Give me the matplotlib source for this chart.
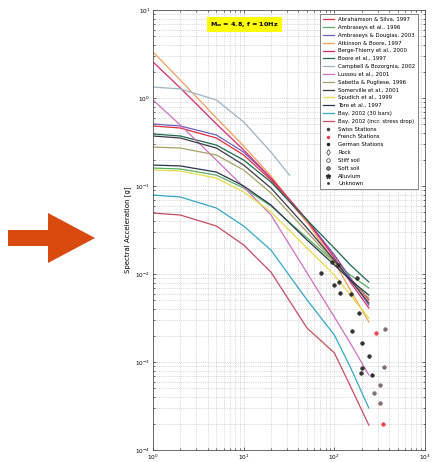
import numpy as np
import matplotlib
matplotlib.use("Agg")
import matplotlib.pyplot as plt
from matplotlib.patches import Polygon
from matplotlib.lines import Line2D

# distanze [km] comuni a quasi tutte le curve
dist = [1, 2, 5, 10, 20, 50, 100, 150, 240]
dist_campbell = [1, 2, 5, 10, 20, 32]

# accelerazione spettrale [g]
sa_abrahamson = [0.481, 0.456, 0.351, 0.225, 0.117, 0.0390, 0.0164, 0.00901, 0.00507]
sa_ambraseys96 = [0.160, 0.156, 0.133, 0.0949, 0.0593, 0.0257, 0.0137, 0.00974, 0.00693]
sa_ambr_douglas = [0.507, 0.481, 0.380, 0.243, 0.123, 0.0411, 0.0164, 0.00901, 0.00444]
sa_atkinson = [3.33, 1.60, 0.593, 0.285, 0.130, 0.0390, 0.0137, 0.00658, 0.00285]
sa_berge = [2.57, 1.30, 0.507, 0.257, 0.123, 0.0411, 0.0152, 0.00811, 0.00411]
sa_boore = [0.390, 0.370, 0.292, 0.197, 0.111, 0.0411, 0.0197, 0.0127, 0.00811]
sa_campbell = [1.33, 1.27, 0.949, 0.534, 0.243, 0.133]
sa_lussou = [0.949, 0.493, 0.197, 0.0974, 0.0468, 0.0103, 0.00325, 0.00164, 0.000712]
sa_sabetta = [0.277, 0.270, 0.225, 0.152, 0.0833, 0.0300, 0.0137, 0.00855, 0.00534]
sa_somerville = [0.370, 0.351, 0.270, 0.173, 0.0949, 0.0333, 0.0144, 0.00855, 0.00468]
sa_spudich = [0.152, 0.148, 0.123, 0.0855, 0.0507, 0.0197, 0.00974, 0.00577, 0.00316]
sa_toro = [0.173, 0.169, 0.144, 0.100, 0.0608, 0.0243, 0.0127, 0.00855, 0.00577]
sa_bay30 = [0.0790, 0.0750, 0.0562, 0.0351, 0.0187, 0.00507, 0.00203, 0.000877, 0.000300]
sa_bay_incr = [0.0493, 0.0468, 0.0351, 0.0214, 0.0105, 0.00243, 0.00127, 0.000534, 0.000192]

# registrazioni
swiss_d = [95, 111, 72, 100, 113, 116, 179, 154, 188, 158, 203, 243, 203, 198, 262]
swiss_sa = [0.0137, 0.0127, 0.0103, 0.0075, 0.00811, 0.00608, 0.00901, 0.00593,
            0.00360, 0.00225, 0.00164, 0.00117, 0.000855, 0.000750, 0.000712]
german_d = [363, 354, 320, 275, 320]
german_sa = [0.00237, 0.000877, 0.000548, 0.000445, 0.000342]
french_d = [290, 345]
french_sa = [0.00214, 0.000197]

modelli = [
    ("Abrahamson & Silva, 1997", dist, sa_abrahamson, "#e0303c"),
    ("Ambraseys et al., 1996", dist, sa_ambraseys96, "#58b060"),
    ("Ambraseys & Douglas, 2003", dist, sa_ambr_douglas, "#6f62c0"),
    ("Atkinson & Boore, 1997", dist, sa_atkinson, "#f2a05a"),
    ("Berge-Thierry et al., 2000", dist, sa_berge, "#d8286e"),
    ("Boore et al., 1997", dist, sa_boore, "#1c6a4c"),
    ("Campbell & Bozorgnia, 2002", dist_campbell, sa_campbell, "#9cb4c4"),
    ("Lussou et al., 2001", dist, sa_lussou, "#d070c4"),
    ("Sabetta & Pugliese, 1996", dist, sa_sabetta, "#a8a264"),
    ("Somerville et al., 2001", dist, sa_somerville, "#3a3a48"),
    ("Spudich et al., 1999", dist, sa_spudich, "#e6dc4c"),
    ("Toro et al., 1997", dist, sa_toro, "#26364e"),
    ("Bay, 2002 (30 bars)", dist, sa_bay30, "#34a8c8"),
    ("Bay, 2002 (incr. stress drop)", dist, sa_bay_incr, "#c84c62"),
]

fig = plt.figure(figsize=(4.39, 4.62), dpi=100)
ax = fig.add_axes([153/439, 1 - 450/462, 272/439, 440/462])

for nome, d, sa, col in modelli:
    ax.plot(d, sa, color=col, lw=0.9, label=nome)

ax.plot(swiss_d, swiss_sa, 'o', ms=2.6, color="#333333", mec="#222222", mew=0.4)
ax.plot(german_d, german_sa, 'o', ms=2.6, color="#8a7070", mec="#6a5a5a", mew=0.4)
ax.plot(french_d, french_sa, 'o', ms=2.6, color="#f04050", mec="#f04050", mew=0.4)

ax.set_xscale('log')
ax.set_yscale('log')
ax.set_xlim(1, 1000)
ax.set_ylim(1e-4, 10)
ax.grid(True, which='both', ls=':', lw=0.5, color='#b8b8b8')
ax.tick_params(which='both', direction='in', labelsize=4.2, length=2, width=0.4,
               top=True, right=True, pad=2)
ax.tick_params(which='minor', length=1.2)
for s in ax.spines.values():
    s.set_linewidth(0.6)
    s.set_color('#555555')
ax.set_ylabel("Spectral Acceleration [g]", fontsize=5, labelpad=3)

ax.text(0.336, 0.967, r"$\mathbf{M_w}$ = 4.8, f = 10Hz", transform=ax.transAxes,
        fontsize=4.6, fontweight='bold', ha='center', va='center',
        bbox=dict(facecolor='#ffff00', edgecolor='none', pad=2.2))

extra = [
    Line2D([], [], ls='none', marker='.', color='#444444', ms=3, label='Swiss Stations'),
    Line2D([], [], ls='none', marker='.', color='#f04050', ms=3, label='French Stations'),
    Line2D([], [], ls='none', marker='.', color='#222222', ms=3, label='German Stations'),
    Line2D([], [], ls='none', marker='d', mfc='none', mec='#333333', ms=3, mew=0.5, label='Rock'),
    Line2D([], [], ls='none', marker='o', mfc='none', mec='#333333', ms=2.6, mew=0.5, label='Stiff soil'),
    Line2D([], [], ls='none', marker='o', mfc='#888888', mec='#333333', ms=2.6, mew=0.5, label='Soft soil'),
    Line2D([], [], ls='none', marker='*', color='#333333', ms=3.5, label='Alluvium'),
    Line2D([], [], ls='none', marker='.', color='#333333', ms=2, label='Unknown'),
]
h, l = ax.get_legend_handles_labels()
leg = ax.legend(h + extra, l + [e.get_label() for e in extra], loc='upper right',
                bbox_to_anchor=(0.984, 0.996), fontsize=3.9, labelspacing=0.52,
                handlelength=2.0, handletextpad=0.8, borderpad=0.5,
                fancybox=False, framealpha=1, edgecolor='#555555')
leg.get_frame().set_linewidth(0.5)

# freccia arancione a sinistra
W, H = 439, 462
pts = [(8, 230), (48, 230), (48, 213), (95, 238), (48, 263), (48, 246), (8, 246)]
fig.patches.append(Polygon([(x / W, 1 - y / H) for x, y in pts], closed=True,
                           transform=fig.transFigure, facecolor='#d84a0e',
                           edgecolor='none'))

fig.savefig("out.png", dpi=100)
